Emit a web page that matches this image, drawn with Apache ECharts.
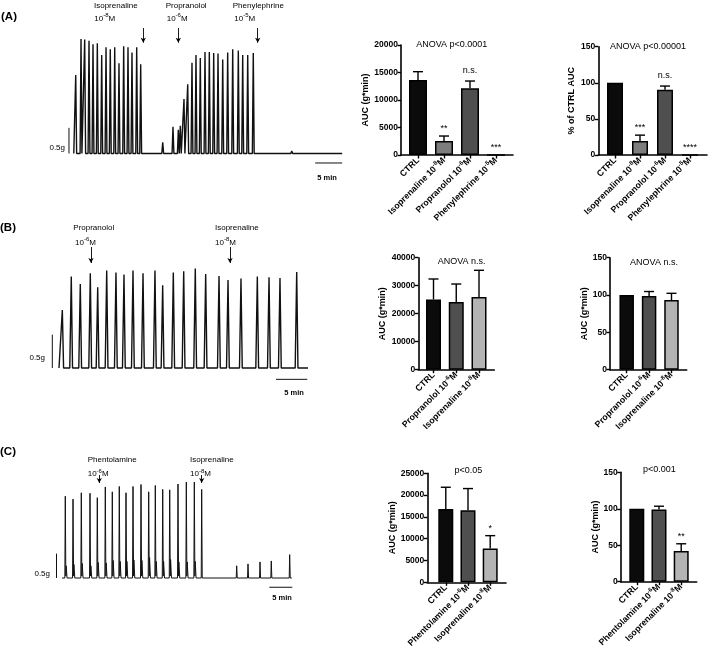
<!DOCTYPE html>
<html><head><meta charset="utf-8">
<script src="https://cdn.jsdelivr.net/npm/echarts@6/dist/echarts.min.js"></script>
<style>html,body{margin:0;padding:0;background:#fff}#c{width:709px;height:650px}</style>
</head><body><div id="c"></div>
<script>
// ===== Trace A (time in min, tension in g)
const traceA_times = [1.06,2.04,2.72,3.52,4.26,5.06,5.87,6.67,7.46,8.28,9.07,9.94,10.74,11.48,12.35,13.09,
  17.17,19.07,20.06,20.43,21.11,21.80,22.59,23.33,24.13,25.0,25.80,26.61,27.41,28.28,29.20,30.13,31.17,31.98,32.91,33.94,41.06];
const traceA_heights = [1.53,2.23,2.22,2.20,2.13,2.15,1.92,2.07,2.03,2.07,1.76,2.09,2.07,1.97,2.07,1.74,
  0.22,0.52,0.46,0.54,1.06,1.35,1.77,1.92,1.86,1.98,1.98,1.96,1.95,1.83,1.97,2.03,2.01,1.92,1.92,1.96,0.05];
const traceA_range = [0.7, 50.4];
const traceA_drugTimes = [13.57, 20.06, 34.76];
// ===== Trace B
const traceB_times = [1.17,2.60,4.04,5.64,6.82,8.26,9.74,11.02,12.46,14.06,15.97,17.20,18.90,20.56,22.41,24.07,26.20,27.64,29.71,32.32,34.19,35.94,38.61];
const traceB_heights = [0.87,1.37,1.26,1.42,1.21,1.46,1.43,1.40,1.46,1.42,1.46,1.24,1.43,1.45,1.49,1.41,1.38,1.32,1.34,1.37,1.36,1.35,1.44];
const traceB_range = [0.64, 40.42];
const traceB_drugTimes = [5.75, 27.96];
// ===== Trace C
const traceC_times = [1.15,2.83,4.63,6.52,8.11,9.85,11.37,12.89,14.35,15.87,17.61,19.28,20.72,22.33,23.85,25.65,27.46,29.2,30.8,38.41,40.87,43.48,45.93,49.93];
const traceC_heights = [1.68,1.62,1.75,1.74,1.65,1.87,1.77,1.88,1.75,1.88,1.92,1.77,1.90,1.82,1.81,1.93,1.97,1.97,1.82,0.25,0.29,0.33,0.35,0.48];
const traceC_second = [0.25,0.28,0.30,0.25,0.32,0.31,0.36,0.34,0.34,0.37,0.36,0.42,0.34,0.34,0.38,0.33,0.33,0.34,0,0,0,0,0,0];
const traceC_range = [0.43, 50.4];
const traceC_drugTimes = [8.54, 30.8];

// ===== Bar charts
const catsA = ['CTRL','Isoprenaline','Propranolol','Phenylephrine'];
const expA = ['', '-8', '-6', '-5'];
const aucA = [13650, 2550, 12150, 0];
const aucA_err = [1500, 900, 1300, 0];
const aucA_sig = ['', '**', 'n.s.', '***'];
const pctA = [100, 19.5, 90.5, 0];
const pctA_err = [0, 8, 5, 0];
const pctA_sig = ['', '***', 'n.s.', '****'];

const catsB = ['CTRL','Propranolol','Isoprenaline'];
const expB = ['', '-6', '-8'];
const aucB = [25100, 24200, 26000];
const aucB_err = [7300, 6400, 9500];
const pctB = [100, 98.7, 93.3];
const pctB_err = [0, 6, 9];

const catsC = ['CTRL','Phentolamine','Isoprenaline'];
const expC = ['', '-6', '-8'];
const aucC = [16800, 16500, 7750];
const aucC_err = [5000, 5000, 2950];
const aucC_sig = ['', '', '*'];
const pctC = [100, 99, 42];
const pctC_err = [0, 4.5, 10];
const pctC_sig = ['', '', '**'];

const FONT = 'Liberation Sans, Arial, sans-serif';

function spikes(range, times, heights, hl, hr, second) {
  const pts = [[range[0], 0]];
  times.forEach((t, i) => {
    pts.push([t - hl, 0], [t, heights[i]]);
    if (second && second[i] > 0) {
      pts.push([t + hr, 0.04], [t + hr * 1.6, second[i]], [t + hr * 3.2, 0]);
    } else {
      pts.push([t + hr, 0]);
    }
  });
  pts.push([range[1], 0]);
  return pts;
}

const grids = [], xAxes = [], yAxes = [], series = [];

function addTrace(grid, xr, yr, data, lw, scaleX, scaleY, drugTimes, arrowY) {
  const gi = grids.length;
  grids.push(grid);
  xAxes.push({type:'value', gridIndex:gi, min:xr[0], max:xr[1], show:false});
  yAxes.push({type:'value', gridIndex:gi, min:yr[0], max:yr[1], show:false});
  series.push({type:'line', xAxisIndex:gi, yAxisIndex:gi, data:data, showSymbol:false, symbol:'none',
    lineStyle:{color:'#111', width:lw}, silent:true, animation:false,
    markLine:{silent:true, symbol:['none','arrow'], symbolSize:[4,5], animation:false,
      lineStyle:{color:'#000', width:0.9, type:'solid'}, label:{show:false},
      data: drugTimes.map(t => [{coord:[t, arrowY[0]]}, {coord:[t, arrowY[1]]}])}
  });
  series.push({type:'line', xAxisIndex:gi, yAxisIndex:gi, data:[[scaleX[0], scaleX[2]], [scaleX[0]+5, scaleX[2]]],
    showSymbol:false, symbol:'none', lineStyle:{color:'#111', width:1}, silent:true, animation:false});
  series.push({type:'line', xAxisIndex:gi, yAxisIndex:gi, data:[[scaleY, 0], [scaleY, 0.5]],
    showSymbol:false, symbol:'none', lineStyle:{color:'#111', width:1}, silent:true, animation:false});
}

addTrace({left:59.2, top:25.25, width:291.6, height:179.55}, [-2, 52], [-1, 2.5],
  spikes(traceA_range, traceA_times, traceA_heights, 0.17, 0.17), 1.4, [45.4, 0, -0.185], -0.19, traceA_drugTimes, [2.446, 2.16]);
addTrace({left:42.48, top:234.6, width:275.44, height:200.1}, [-2, 42], [-1, 2],
  spikes(traceB_range, traceB_times, traceB_heights, 0.24, 0.2), 1.4, [35.3, 0, -0.17], -0.43, traceB_drugTimes, [1.814, 1.574]);
addTrace({left:50.8, top:456.25, width:248.4, height:170.45}, [-2, 52], [-1, 2.5],
  spikes(traceC_range, traceC_times, traceC_heights, 0.1, 0.12, traceC_second), 1.0, [45.5, 0, -0.19], -0.76, traceC_drugTimes, [2.115, 1.95]);

function labelFmt(cats, exps) {
  return v => {
    const i = Math.round(v);
    if (!exps[i]) return '{n|' + cats[i] + '}';
    return '{n|' + cats[i] + ' 10}{s|' + exps[i] + '}{n|M}';
  };
}

function addBars(grid, xr, ymax, yint, cats, exps, vals, errs, sigs, colors, barW, yName, nameGap) {
  const gi = grids.length;
  grids.push(grid);
  const idx = cats.map((c, i) => i);
  xAxes.push({type:'value', gridIndex:gi, min:xr[0], max:xr[1],
    axisLine:{show:true, onZero:false, lineStyle:{color:'#000', width:1.6}},
    axisTick:{show:true, customValues:idx, length:3.5, lineStyle:{color:'#000', width:1.4}},
    splitLine:{show:false},
    axisLabel:{customValues:idx, rotate:45, margin:4, formatter:labelFmt(cats, exps), color:'#000',
      rich:{n:{fontFamily:FONT, fontWeight:'bold', fontSize:8.8, lineHeight:12, color:'#000'},
            s:{fontFamily:FONT, fontWeight:'bold', fontSize:6, lineHeight:6, verticalAlign:'top', color:'#000'}}}
  });
  yAxes.push({type:'value', gridIndex:gi, min:0, max:ymax, interval:yint,
    axisLine:{show:true, onZero:false, lineStyle:{color:'#000', width:1.6}},
    axisTick:{show:true, length:3.5, lineStyle:{color:'#000', width:1.4}},
    splitLine:{show:false},
    axisLabel:{fontFamily:FONT, fontWeight:'bold', fontSize:8.5, color:'#000', margin:3, formatter: v => String(v)},
    name:yName, nameLocation:'middle', nameRotate:90, nameGap:nameGap,
    nameTextStyle:{fontFamily:FONT, fontWeight:'bold', fontSize:9, color:'#000'}
  });
  series.push({type:'bar', xAxisIndex:gi, yAxisIndex:gi, barWidth:barW, animation:false, silent:true,
    data: vals.map((v, i) => ({value:[i, v], itemStyle:{color:colors[i], borderColor:'#000', borderWidth:1.5}}))});
  series.push({type:'custom', xAxisIndex:gi, yAxisIndex:gi, animation:false, silent:true, z:5,
    data: vals.map((v, i) => [i, v, errs[i]]),
    renderItem: (params, api) => {
      const x = api.value(0), m = api.value(1), e = api.value(2);
      const p0 = api.coord([x, m]), p1 = api.coord([x, m + e]);
      const ch = [];
      if (e > 0) {
        ch.push({type:'line', shape:{x1:p0[0], y1:p0[1], x2:p1[0], y2:p1[1]}, style:{stroke:'#000', lineWidth:1.4}});
        ch.push({type:'line', shape:{x1:p1[0]-5, y1:p1[1], x2:p1[0]+5, y2:p1[1]}, style:{stroke:'#000', lineWidth:1.4}});
      }
      const s = sigs ? sigs[params.dataIndex] : '';
      if (s) {
        const off = s === 'n.s.' ? 6 : 3;
        ch.push({type:'text', x:p1[0], y:p1[1] - off,
          style:{text:s, fontFamily:FONT, fontSize:9, fill:'#000', align:'center', verticalAlign:'bottom'}});
      }
      return {type:'group', children:ch};
    }
  });
}

const BLK = '#0b0b0b', DG = '#4f4f4f', MG = '#7d7d7d', LG = '#b4b4b4';
addBars({left:401, top:45, width:112, height:110}, [-0.654, 3.654], 20000, 5000, catsA, expA, aucA, aucA_err, aucA_sig,
  [BLK, MG, DG, MG], 18, 'AUC (g*min)', 31);
addBars({left:598.3, top:46.7, width:108.7, height:108.3}, [-0.668, 3.68], 150, 50, catsA, expA, pctA, pctA_err, pctA_sig,
  [BLK, MG, DG, MG], 16, '% of CTRL AUC', 22);
addBars({left:418.3, top:257.7, width:76, height:112}, [-0.668, 2.672], 40000, 10000, catsB, expB, aucB, aucB_err, null,
  [BLK, DG, LG], 15, 'AUC (g*min)', 31);
addBars({left:610, top:257.7, width:76.7, height:112}, [-0.745, 2.679], 150, 50, catsB, expB, pctB, pctB_err, null,
  [BLK, DG, LG], 14.5, 'AUC (g*min)', 21);
addBars({left:427.3, top:473.3, width:78.7, height:109.7}, [-0.833, 2.712], 25000, 5000, catsC, expC, aucC, aucC_err, aucC_sig,
  [BLK, DG, LG], 15, 'AUC (g*min)', 27);
addBars({left:620.7, top:472.3, width:76, height:109.4}, [-0.725, 2.698], 150, 50, catsC, expC, pctC, pctC_err, pctC_sig,
  [BLK, DG, LG], 15, 'AUC (g*min)', 21);

function txt(x, y, text, size, opts) {
  opts = opts || {};
  return {type:'text', x:x, y:y, silent:true, z:10,
    style:Object.assign({text:text, fontFamily:FONT, fontSize:size, fill:'#000', align:'left', verticalAlign:'middle'}, opts)};
}
function conc(x, y, e) {
  return {type:'text', x:x, y:y, silent:true, z:10,
    style:{text:'{n|10}{s|' + e + '}{n|M}', align:'left', verticalAlign:'middle',
      rich:{n:{fontFamily:FONT, fontSize:8, lineHeight:12, fill:'#000'},
            s:{fontFamily:FONT, fontSize:6, lineHeight:6, verticalAlign:'top', fill:'#000'}}}};
}

const graphics = [
  txt(1, 17, '(A)', 11.5, {fontWeight:'bold'}),
  txt(0, 227.5, '(B)', 11.5, {fontWeight:'bold'}),
  txt(0, 451.5, '(C)', 11.5, {fontWeight:'bold'}),
  txt(94, 5.5, 'Isoprenaline', 8), conc(94.3, 18.5, '-8'),
  txt(165.7, 5.5, 'Propranolol', 8), conc(166.7, 18.5, '-6'),
  txt(232.7, 5.5, 'Phenylephrine', 8), conc(234.3, 18.5, '-5'),
  txt(65, 148, '0.5g', 8, {align:'right'}),
  txt(327, 178, '5 min', 7.5, {align:'center', fontWeight:'bold'}),
  txt(73.3, 227.3, 'Propranolol', 8), conc(75, 242.3, '-6'),
  txt(215, 227.3, 'Isoprenaline', 8), conc(215, 242.3, '-8'),
  txt(45, 357.3, '0.5g', 8, {align:'right'}),
  txt(294, 393, '5 min', 7.5, {align:'center', fontWeight:'bold'}),
  txt(87.7, 459.3, 'Phentolamine', 8), conc(87.7, 474, '-6'),
  txt(190, 459.3, 'Isoprenaline', 8), conc(190, 474, '-8'),
  txt(50, 574, '0.5g', 8, {align:'right'}),
  txt(282, 598, '5 min', 7.5, {align:'center', fontWeight:'bold'}),
  txt(451.7, 44.5, 'ANOVA p<0.0001', 9, {align:'center'}),
  txt(648, 46.7, 'ANOVA p<0.00001', 9, {align:'center'}),
  txt(461.7, 261.7, 'ANOVA n.s.', 9, {align:'center'}),
  txt(654, 262.3, 'ANOVA n.s.', 9, {align:'center'}),
  txt(468.3, 470.7, 'p<0.05', 9, {align:'center'}),
  txt(659.3, 470, 'p<0.001', 9, {align:'center'})
];

const chart = echarts.init(document.getElementById('c'), null, {renderer:'canvas'});
chart.setOption({
  animation:false,
  backgroundColor:'#fff',
  grid:grids, xAxis:xAxes, yAxis:yAxes, series:series, graphic:graphics
});
</script></body></html>
